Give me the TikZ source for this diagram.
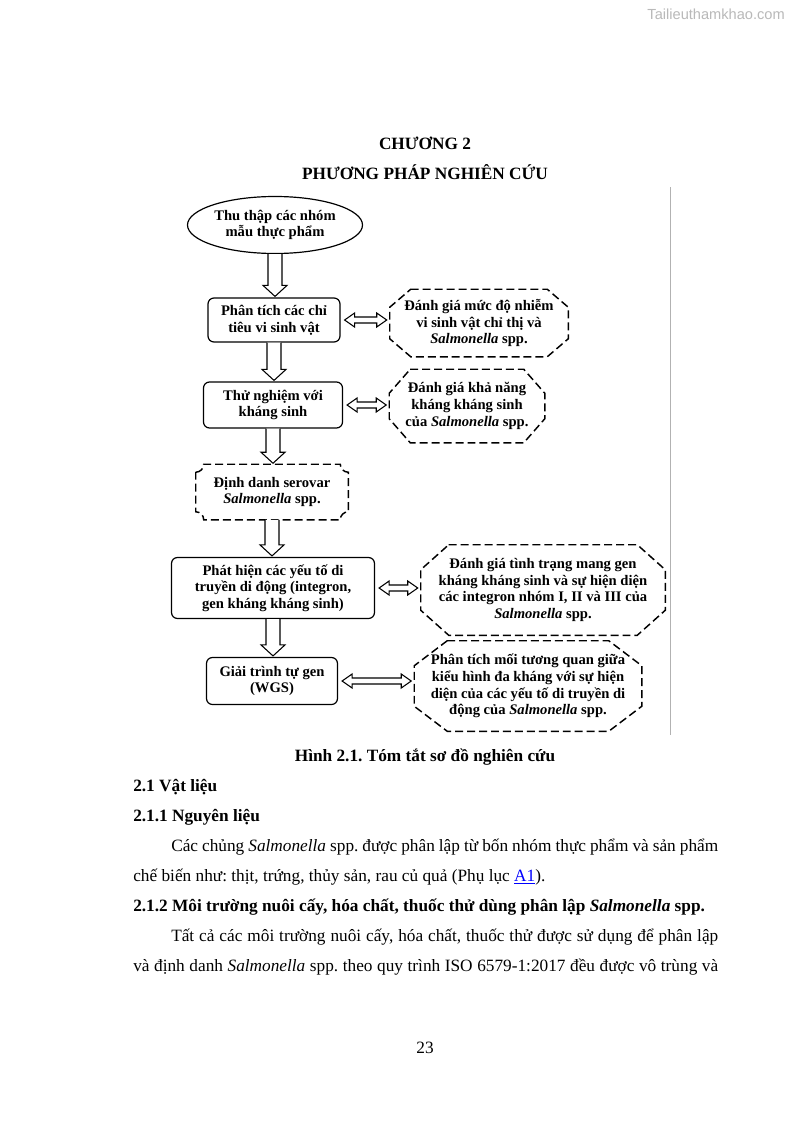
\documentclass[tikz,border=0pt]{standalone}
\usepackage{fontspec}
\setmainfont{Liberation Serif}
\newfontfamily\wmfont{Liberation Sans}
\usetikzlibrary{calc, shapes.geometric}
\frenchspacing

% one pixel of the page
\newlength{\pxu}
\setlength{\pxu}{0.2645mm}

% hollow arrow going down, from node #1 to node #2
\newcommand{\downstep}[2]{%
  \coordinate (T) at (#1.south);
  \coordinate (B) at ($(#1.south |- #2.north)+(0,-1)$);
  \draw[hollow] ($(T)+(-7,0)$) -- ($(B)+(-7,-11)$) -- ++(-5,0) -- (B)
    -- ($(B)+(12,-11)$) -- ++(-5,0) -- ($(T)+(7,0)$) ;
}

% hollow double arrow between node #1 and node #2
\newcommand{\twoway}[2]{%
  \coordinate (L) at ($(#1.east)+(4,0)$);
  \coordinate (R) at ($(#2.west |- #1.east)+(-3,0)$);
  \draw[hollow] (L) -- ++(10,-7) -- ++(0,4) -- ($(R)+(-10,-3)$) -- ++(0,-4)
    -- (R) -- ++(-10,7) -- ++(0,-4) -- ($(L)+(10,3)$) -- ++(0,4) -- cycle ;
}

% dashed octagon round node #1, corners #2 wide and #3 high
\newcommand{\octframe}[3]{%
  \draw[dashframe] ($(#1.north west)+(#2,0)$) -- ($(#1.north east)+(-#2,0)$)
    -- ($(#1.north east)+(0,#3)$) -- ($(#1.south east)+(0,-#3)$)
    -- ($(#1.south east)+(-#2,0)$) -- ($(#1.south west)+(#2,0)$)
    -- ($(#1.south west)+(0,-#3)$) -- ($(#1.north west)+(0,#3)$) -- cycle ;
}

% dashed box with hollowed corners round node #1
\newcommand{\plaqueframe}[2]{%
  \draw[dashframe] ($(#1.north west)+(0,#2)$) arc[start angle=-90, end angle=0, radius=#2*\pxu]
    -- ($(#1.north east)+(-#2,0)$) arc[start angle=180, end angle=270, radius=#2*\pxu]
    -- ($(#1.south east)+(0,-#2)$) arc[start angle=90, end angle=180, radius=#2*\pxu]
    -- ($(#1.south west)+(#2,0)$) arc[start angle=0, end angle=90, radius=#2*\pxu]
    -- cycle ;
}

\begin{document}
\begin{tikzpicture}[x=\pxu, y=-\pxu,
  bodytext/.style={anchor=base west, inner sep=0pt, font=\fontsize{13}{15}\selectfont},
  headtext/.style={bodytext, font=\fontsize{13}{15}\selectfont\bfseries},
  flow/.style={align=center, inner sep=0pt, font=\fontsize{11}{12.5}\selectfont\bfseries},
  stepbox/.style={flow, draw, line width=0.9pt, rounded corners=4.5pt},
  notebox/.style={flow},
  dashframe/.style={line width=1.1pt, dash pattern=on 6pt off 3pt},
  hollow/.style={line width=0.8pt, line join=miter, fill=white}]

\useasboundingbox[fill=white] (0,0) rectangle (794,1123) ;

% watermark
\node[anchor=base east, inner sep=0pt, text=gray!55, font=\wmfont\fontsize{11}{13}\selectfont]
  (mark) at (785,20) {Tailieuthamkhao.com} ;

% chapter title
\node[headtext, anchor=base] (chap) at (425,149) {CHƯƠNG 2} ;
\node[headtext, anchor=base] (title) at (425,179) {PHƯƠNG PHÁP NGHIÊN CỨU} ;

% steps of the study
\node[flow, draw, line width=0.9pt, ellipse, minimum width=175*\pxu, minimum height=57*\pxu]
  (collect) at (275,225) {Thu thập các nhóm\\mẫu thực phẩm} ;
\node[stepbox, minimum width=132*\pxu, minimum height=44*\pxu]
  (micro) at (274,320) {Phân tích các chỉ\\tiêu vi sinh vật} ;
\node[stepbox, minimum width=139*\pxu, minimum height=46*\pxu]
  (anti) at (273,405) {Thử nghiệm với\\kháng sinh} ;
\node[flow, minimum width=152*\pxu, minimum height=55*\pxu]
  (sero) at (272,492) {Định danh serovar\\\textit{Salmonella} spp.} ;
\node[stepbox, minimum width=203*\pxu, minimum height=61*\pxu]
  (mobile) at (273,588) {Phát hiện các yếu tố di\\truyền di động (integron,\\gen kháng kháng sinh)} ;
\node[stepbox, minimum width=131*\pxu, minimum height=47*\pxu]
  (wgs) at (272,681) {Giải trình tự gen\\(WGS)} ;

% results of each step
\node[notebox, minimum width=178*\pxu, minimum height=67*\pxu]
  (resmicro) at (479,323) {Đánh giá mức độ nhiễm\\vi sinh vật chỉ thị và\\\textit{Salmonella} spp.} ;
\node[notebox, minimum width=155*\pxu, minimum height=73*\pxu]
  (resanti) at (467,406) {Đánh giá khả năng\\kháng kháng sinh\\của \textit{Salmonella} spp.} ;
\node[notebox, minimum width=244*\pxu, minimum height=90*\pxu]
  (resmobile) at (543,590) {Đánh giá tình trạng mang gen\\kháng kháng sinh và sự hiện diện\\các integron nhóm I, II và III của\\\textit{Salmonella} spp.} ;
\node[notebox, minimum width=227*\pxu, minimum height=90*\pxu]
  (reswgs) at (528,686) {Phân tích mối tương quan giữa\\kiểu hình đa kháng với sự hiện\\diện của các yếu tố di truyền di\\động của \textit{Salmonella} spp.} ;

% dashed frames
\plaqueframe{sero}{8}
\octframe{resmicro}{21}{18}
\octframe{resanti}{21}{24}
\octframe{resmobile}{28}{25}
\octframe{reswgs}{33}{25}

% arrows down
\downstep{collect}{micro}
\downstep{micro}{anti}
\downstep{anti}{sero}
\downstep{sero}{mobile}
\downstep{mobile}{wgs}

% arrows to the results
\twoway{micro}{resmicro}
\twoway{anti}{resanti}
\twoway{mobile}{resmobile}
\twoway{wgs}{reswgs}

% margin line
\draw[gray!60, line width=0.75pt] (670,187) coordinate (mtop) -- (670,735) coordinate (mbot) ;

% caption and text
\node[headtext, anchor=base] (cap) at (425,761) {Hình 2.1. Tóm tắt sơ đồ nghiên cứu} ;
\node[headtext] (sec) at (133,791) {2.1 Vật liệu} ;
\node[headtext] (sub1) at (133,821) {2.1.1 Nguyên liệu} ;
\node[bodytext] (par1) at (171,851)
  {\makebox[547\pxu][s]{Các chủng \textit{Salmonella} spp. được phân lập từ bốn nhóm thực phẩm và sản phẩm}} ;
\node[bodytext] (par2) at (133,881)
  {chế biến như: thịt, trứng, thủy sản, rau củ quả (Phụ lục \textcolor{blue}{\underline{A1}}).} ;
\node[headtext] (sub2) at (133,911)
  {2.1.2 Môi trường nuôi cấy, hóa chất, thuốc thử dùng phân lập \textit{Salmonella} spp.} ;
\node[bodytext] (par3) at (171,941)
  {\makebox[547\pxu][s]{Tất cả các môi trường nuôi cấy, hóa chất, thuốc thử được sử dụng để phân lập}} ;
\node[bodytext] (par4) at (133,971)
  {\makebox[585\pxu][s]{và định danh \textit{Salmonella} spp. theo quy trình ISO 6579-1:2017 đều được vô trùng và}} ;

% page number
\node[bodytext, anchor=base] (page) at (425,1053) {23} ;

\end{tikzpicture}
\end{document}
